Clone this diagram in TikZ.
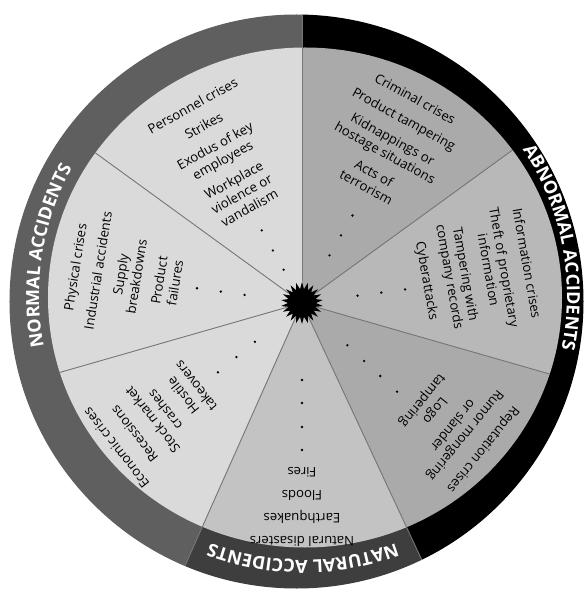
\documentclass[tikz,border=0pt]{standalone}
\usepackage{fontspec}
\setmainfont{Open Sans}
\usetikzlibrary{shapes.geometric,decorations.text}

\definecolor{lightsector}{HTML}{DADADA}
\definecolor{natsector}{HTML}{C3C3C3}
\definecolor{abnsector}{HTML}{AAAAAA}
\definecolor{infosector}{HTML}{B8B8B8}
\definecolor{normalband}{HTML}{5F5F5F}
\definecolor{naturalband}{HTML}{3E3E3E}
\definecolor{spokegray}{HTML}{767676}

\newcommand{\itemfont}{\fontsize{13.2}{16}\selectfont}
\newcommand{\bandfont}{\fontsize{18}{18}\selectfont\bfseries}

\begin{document}
\begin{tikzpicture}[x=1pt,y=1pt,
  crisistext/.style={align=center,anchor=north,inner sep=0pt,font=\itemfont},
  spoke/.style={draw=spokegray,line width=0.9pt},
  bulletdot/.style={fill=black},
  bandtext/.style={decorate,decoration={text along path,text align=center,text color=white,text={|\bandfont|#1}}}]
\useasboundingbox (-302,-291) rectangle (285,303);

% ends of the spokes
\foreach \n/\a in {1/90,2/144,3/196,4/246,5/295,6/344,7/36}
  \coordinate (d\n) at (\a:400);

% outer ring
\begin{scope}
\clip (-5.5,1.5) circle (287);
\fill[normalband] (0,0) -- (90:420) arc[start angle=90,end angle=246,radius=420] -- cycle;
\fill[naturalband] (0,0) -- (246:420) arc[start angle=246,end angle=295,radius=420] -- cycle;
\fill[black] (0,0) -- (295:420) arc[start angle=295,end angle=450,radius=420] -- cycle;
\end{scope}

% sectors
\begin{scope}
\clip (3,5.5) ellipse [x radius=257,y radius=250];
\fill[lightsector] (0,0) -- (90:420) arc[start angle=90,end angle=246,radius=420] -- cycle;
\fill[natsector] (0,0) -- (246:420) arc[start angle=246,end angle=295,radius=420] -- cycle;
\fill[abnsector] (0,0) -- (295:420) arc[start angle=295,end angle=344,radius=420] -- cycle;
\fill[infosector] (0,0) -- (344:420) arc[start angle=344,end angle=396,radius=420] -- cycle;
\fill[abnsector] (0,0) -- (36:420) arc[start angle=36,end angle=90,radius=420] -- cycle;
\end{scope}

\node[star,star points=22,star point ratio=1.5,fill=black,minimum size=42pt,inner sep=0pt] (hub) at (0,0) {};

\begin{scope}
\clip (-5.5,1.5) circle (287);
\draw[spoke] (hub) -- (d1);
\draw[spoke] (hub) -- (d4);
\draw[spoke] (hub) -- (d5);
\end{scope}
\begin{scope}
\clip (3,5.5) ellipse [x radius=257,y radius=250];
\draw[spoke] (hub) -- (d2);
\draw[spoke] (hub) -- (d3);
\draw[spoke] (hub) -- (d6);
\draw[spoke] (hub) -- (d7);
\end{scope}

% ring labels
\begin{scope}[shift={(1,7)}]
\path[bandtext=NORMAL ACCIDENTS] (211:264) arc[start angle=211,end angle=131,radius=264];
\path[bandtext=ABNORMAL ACCIDENTS] (51:264) arc[start angle=51,end angle=-29,radius=264];
\path[bandtext=NATURAL ACCIDENTS] (-50:264) arc[start angle=-50,end angle=-130,radius=264];
\end{scope}

% crises
\node[crisistext,rotate=29] (personnel) at (119:231) {Personnel crises\\[7pt]Strikes\\[7pt]Exodus of key\\employees\\[7pt]Workplace\\violence or\\vandalism};
\node[crisistext,rotate=81] (physical) at (171:235) {Physical crises\\[7pt]Industrial accidents\\[7pt]Supply\\breakdowns\\[7pt]Product\\failures};
\node[crisistext,rotate=128] (economic) at (218:241) {Economic crises\\[7pt]Recessions\\[7pt]Stock market\\crashes\\[7pt]Hostile\\takeovers};
\node[crisistext,rotate=180] (natural) at (270:244) {Natural disasters\\[7pt]Earthquakes\\[7pt]Floods\\[7pt]Fires};
\node[crisistext,rotate=231] (reputation) at (-39:239) {Reputation crises\\[7pt]Rumor mongering\\or slander\\[7pt]Logo\\tampering};
\node[crisistext,rotate=-80] (information) at (10:234) {Information crises\\[7pt]Theft of proprietary\\information\\[7pt]Tampering with\\company records\\[7pt]Cyberattacks};
\node[crisistext,rotate=-29] (criminal) at (61:239) {Criminal crises\\[7pt]Product tampering\\[7pt]Kidnappings or\\hostage situations\\[7pt]Acts of\\terrorism};

% dots
\foreach \r in {38,60,83} \fill[bulletdot] (119:\r) circle (1.3);
\foreach \r in {58,82,106} \fill[bulletdot] (172:\r) circle (1.3);
\foreach \r in {61,85,109} \fill[bulletdot] (219.5:\r) circle (1.3);
\foreach \r in {77,100,124,147} \fill[bulletdot] (270:\r) circle (1.3);
\foreach \r in {62,85,107,130} \fill[bulletdot] (-43:\r) circle (1.3);
\foreach \r in {56,80,104} \fill[bulletdot] (7.5:\r) circle (1.3);
\foreach \r in {55,78,101} \fill[bulletdot] (60:\r) circle (1.3);
\end{tikzpicture}
\end{document}
